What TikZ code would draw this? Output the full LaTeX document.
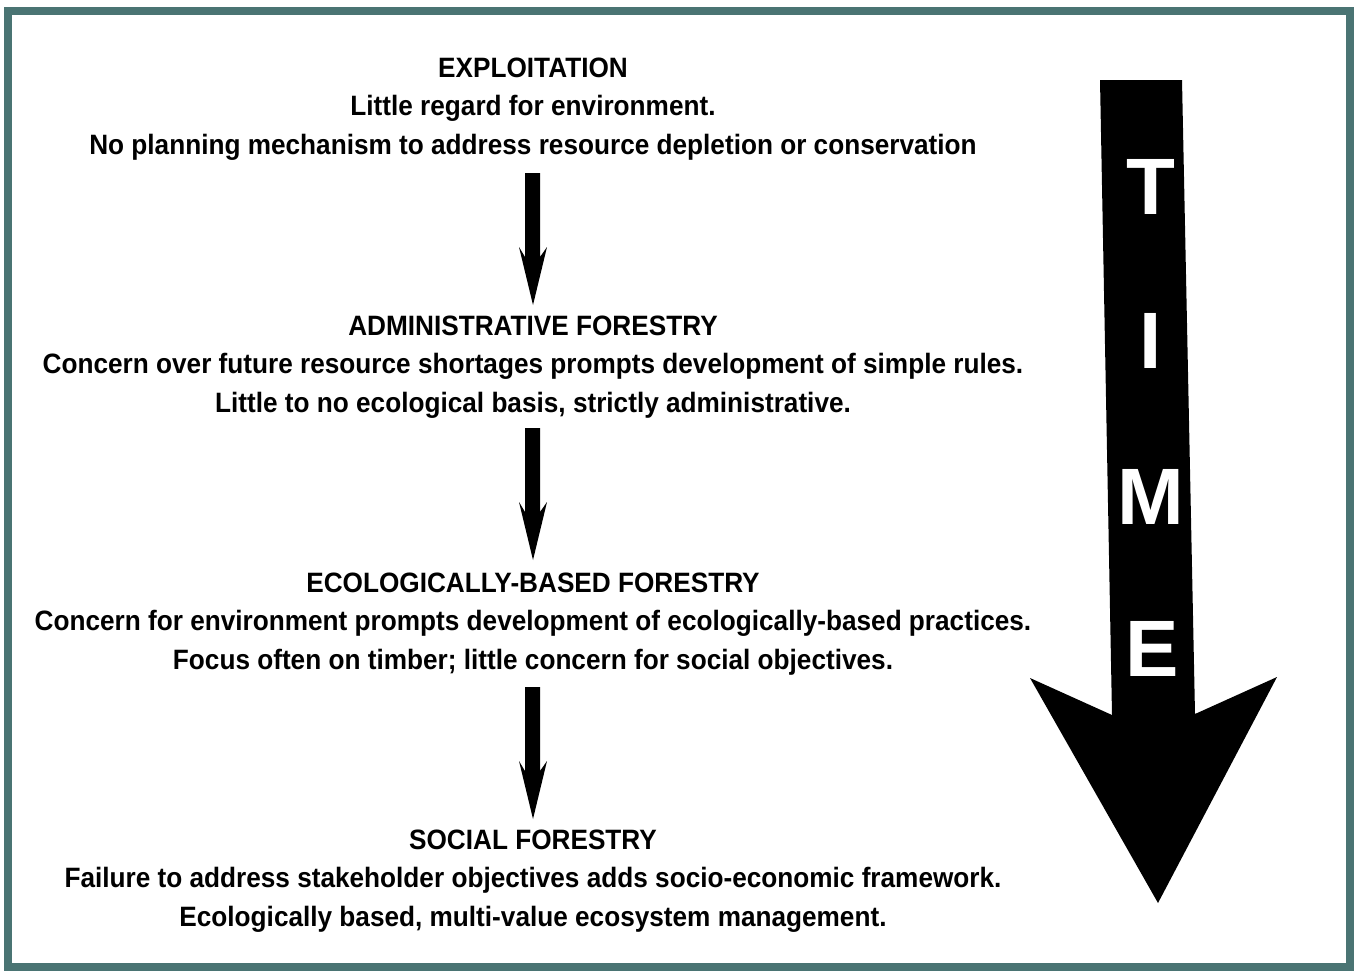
\documentclass[tikz,border=0pt]{standalone}
\usepackage{fontspec}
\setmainfont{Liberation Sans}[FakeStretch=0.935]
\newfontfamily\timefont{Liberation Sans}
\definecolor{frame}{HTML}{4A7473}
\begin{document}
\begin{tikzpicture}[x=1pt,y=-1pt,
  txt/.style={font=\fontsize{28}{38.5}\selectfont\bfseries, align=center, inner sep=0pt},
  letter/.style={font=\fontsize{80}{80}\selectfont\timefont\bfseries, text=white, inner sep=0pt},
  smallarrow/.style={fill=black}]
\useasboundingbox (0,0) rectangle (1354,970);
\fill[white] (0,0) rectangle (1354,970);
\draw[frame, line width=8pt] (8,11) rectangle (1350,967);

\node[txt] (t1) at (533,109) {EXPLOITATION\\Little regard for environment.\\No planning mechanism to address resource depletion or conservation};
\node[txt] (t2) at (533,367) {ADMINISTRATIVE FORESTRY\\Concern over future resource shortages prompts development of simple rules.\\Little to no ecological basis, strictly administrative.};
\node[txt] (t3) at (533,624) {ECOLOGICALLY-BASED FORESTRY\\Concern for environment prompts development of ecologically-based practices.\\Focus often on timber; little concern for social objectives.};
\node[txt] (t4) at (533,881) {SOCIAL FORESTRY\\Failure to address stakeholder objectives adds socio-economic framework.\\Ecologically based, multi-value ecosystem management.};

\foreach \y in {173,428,687}{
  \fill[smallarrow] (525,\y) -- (540,\y) -- (540,\y+84) -- (547,\y+74) -- (533,\y+132) -- (519,\y+74) -- (525,\y+84) -- cycle;
}

\fill[black] (1100,80) -- (1182,80) -- (1195,714) -- (1277,677) -- (1158,903) -- (1030,678) -- (1112,715) -- cycle;
\node[letter] (T) at (1151,187) {T};
\node[letter] (I) at (1151,341) {I};
\node[letter] (M) at (1151,497) {M};
\node[letter] (E) at (1152,649) {E};
\end{tikzpicture}
\end{document}
